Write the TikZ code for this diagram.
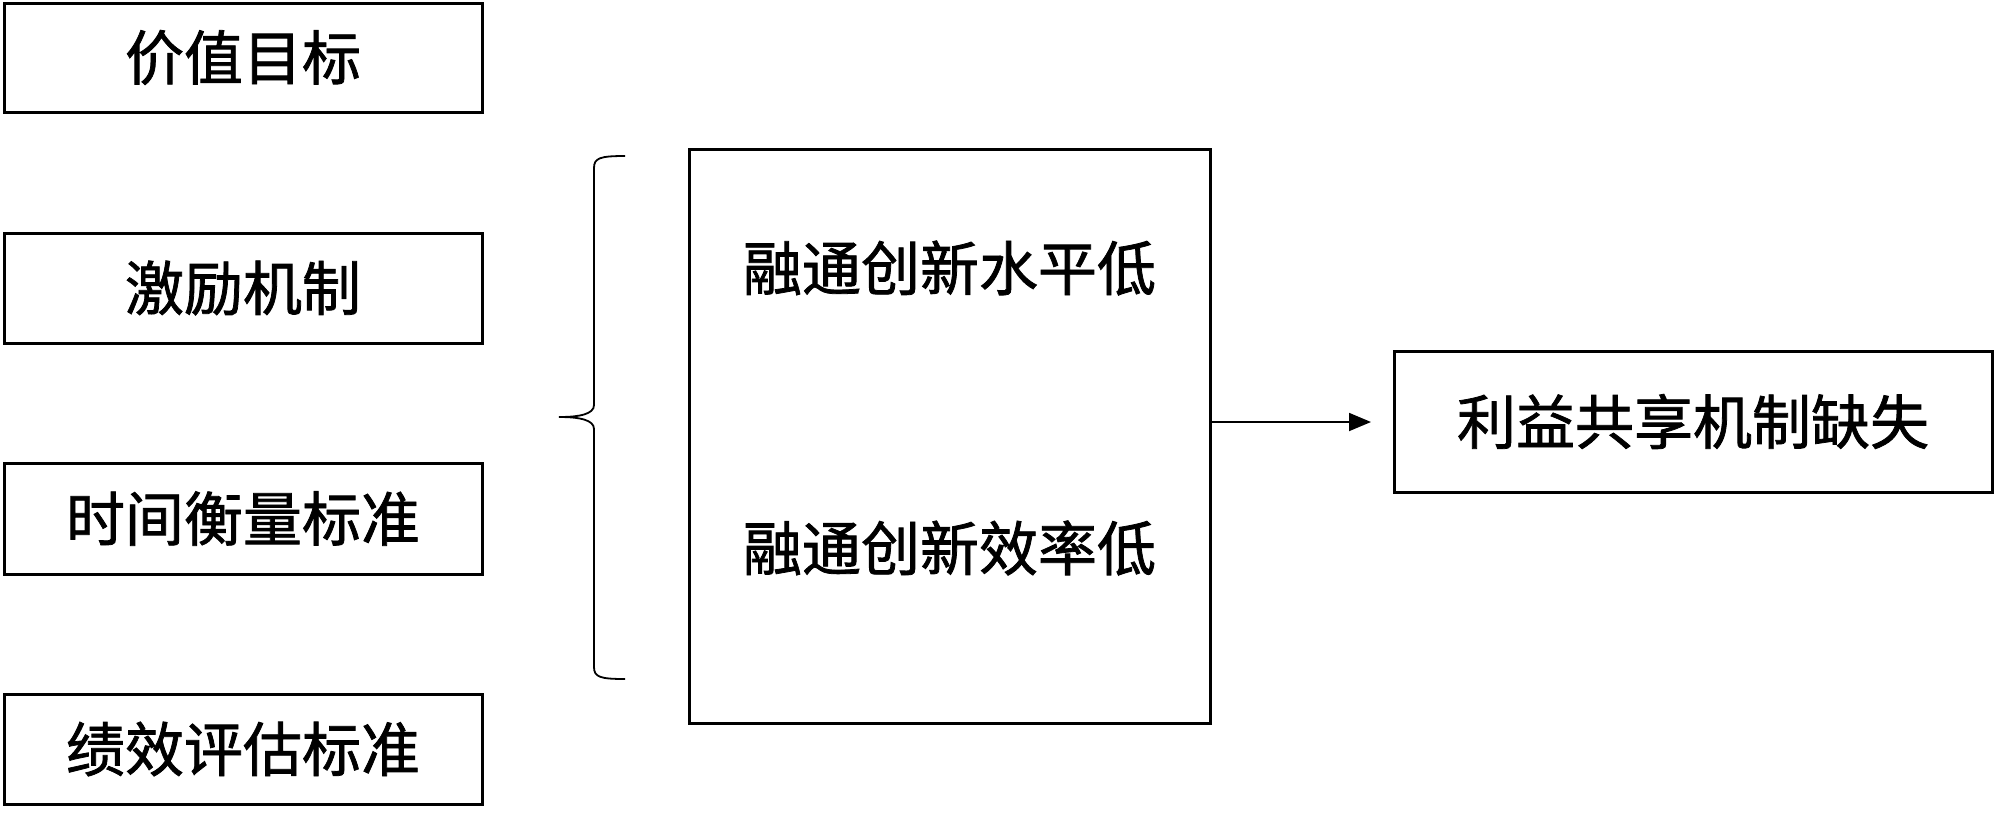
\documentclass[tikz,border=0pt]{standalone}
\usepackage{fontspec}
\newfontfamily\cjk[FakeBold=1.3]{Noto Sans CJK SC}
\usetikzlibrary{arrows.meta}
\begin{document}
\begin{tikzpicture}[x=1pt,y=-1pt,
  box/.style={draw,line width=3pt,inner sep=0pt},
  lbl/.style={font=\cjk\fontsize{59}{62}\selectfont,inner sep=0pt},
  conn/.style={line width=1.8pt},
  bracestyle/.style={line width=1.8pt}]
\useasboundingbox (0,0) rectangle (2000,812);
% left boxes
\node[box,minimum width=478pt,minimum height=109pt] (b1) at (243,57.5) {};
\node[box,minimum width=478pt,minimum height=110pt] (b2) at (243,288) {};
\node[box,minimum width=478pt,minimum height=111pt] (b3) at (243,518.5) {};
\node[box,minimum width=478pt,minimum height=110pt] (b4) at (243,749) {};
\node[lbl] (t1) at (b1.center) {价值目标};
\node[lbl] (t2) at (b2.center) {激励机制};
\node[lbl] (t3) at (b3.center) {时间衡量标准};
\node[lbl] (t4) at (b4.center) {绩效评估标准};
% brace
\coordinate (bt) at (625,156);
\coordinate (bm) at (559,417);
\coordinate (bb) at (625,679);
\draw[bracestyle] (bt) .. controls (600,156) and (594,158) .. (594,168)
  -- (594,405) .. controls (594,414) and (580,417) .. (bm)
  .. controls (580,417) and (594,420) .. (594,429)
  -- (594,667) .. controls (594,677) and (600,679) .. (bb);
% middle box
\node[box,minimum width=521pt,minimum height=574pt] (mid) at (949.5,436) {};
\node[lbl] (m1) at (949.5,268) {融通创新水平低};
\node[lbl] (m2) at (949.5,548) {融通创新效率低};
% right box
\node[box,minimum width=598pt,minimum height=141pt] (res) at (1693,421.5) {};
\node[lbl] (r1) at (res.center) {利益共享机制缺失};
% arrow
\coordinate (aend) at (1371,422);
\draw[conn,-{Triangle[length=22pt,width=18pt]}] (mid.east |- aend) -- (aend);
\end{tikzpicture}
\end{document}
